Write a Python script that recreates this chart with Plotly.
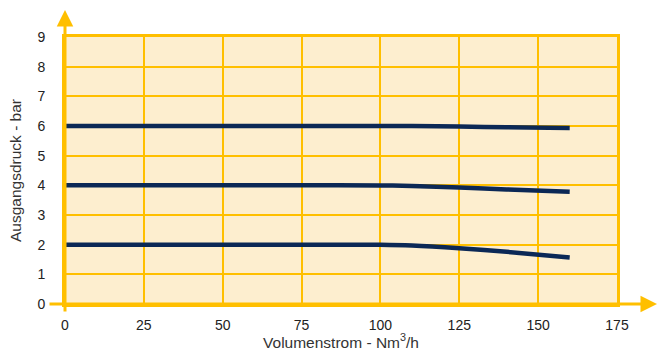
import plotly.graph_objects as go

flow = [0, 25, 50, 75, 100, 110, 125, 140, 160]
p6 = [6, 6, 6, 6, 6, 6, 5.98, 5.96, 5.93]
p4 = [4, 4, 4, 4, 3.995, 3.98, 3.93, 3.86, 3.78]
p2 = [2, 2, 2, 2, 1.995, 1.97, 1.88, 1.76, 1.57]
x_ticks = [0, 25, 50, 75, 100, 125, 150, 175]
y_ticks = [0, 1, 2, 3, 4, 5, 6, 7, 8, 9]

GOLD = "#FFBF00"
NAVY = "#0B2856"
FONT = "Liberation Sans, Arial, sans-serif"

fig = go.Figure()
for ys in (p6, p4, p2):
    fig.add_trace(go.Scatter(x=flow, y=ys, mode="lines",
                             line=dict(color=NAVY, width=4.5, shape="spline", smoothing=0.8),
                             showlegend=False, hoverinfo="skip"))

W, H = 658, 351
L, R, T, B = 65, 41, 37, 47
pw, ph = W - L - R, H - T - B

fig.update_layout(
    width=W, height=H,
    margin=dict(l=L, r=R, t=T, b=B, autoexpand=False),
    paper_bgcolor="white", plot_bgcolor="#FDEECF",
    font=dict(family=FONT, size=14, color="#222222"),
)
fig.update_xaxes(range=[0, 175], tickvals=x_ticks, showgrid=True, gridcolor=GOLD, gridwidth=1.5,
                 showline=True, linecolor=GOLD, linewidth=3, mirror=True, zeroline=False,
                 ticks="", ticklabelstandoff=6, automargin=False,
                 title=dict(text="Volumenstrom - Nm<sup>3</sup>/h", standoff=0,
                            font=dict(size=15.5, color="#333333")))
fig.update_yaxes(range=[0, 9], tickvals=y_ticks, showgrid=True, gridcolor=GOLD, gridwidth=1.5,
                 showline=True, linecolor=GOLD, linewidth=3, mirror=True, zeroline=False,
                 ticks="", ticklabelstandoff=14, automargin=False,
                 title=dict(text="Ausgangsdruck - bar", standoff=12,
                            font=dict(size=15.5, color="#333333")))

# axis arrows
fig.add_annotation(x=0, xref="x", y=(H - B - 10) / ph, yref="paper",
                   ax=0, ay=(313 - 10), showarrow=True, arrowhead=2, arrowsize=1.1,
                   arrowwidth=3, arrowcolor=GOLD, text="")
fig.add_annotation(x=(W - L) / pw, xref="paper", y=0, yref="y",
                   ax=-(W - 48), ay=0, showarrow=True, arrowhead=2, arrowsize=1.1,
                   arrowwidth=3, arrowcolor=GOLD, text="")

fig.write_html("out.html", config={"displayModeBar": False},
               post_script="document.body.style.margin='0';")
